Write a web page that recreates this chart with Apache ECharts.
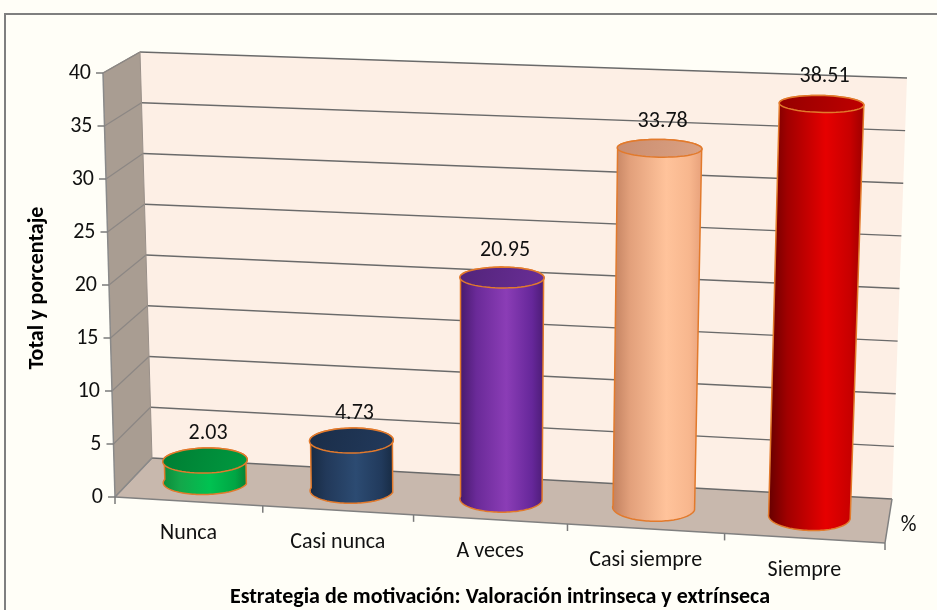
<!DOCTYPE html>
<html>
<head>
<meta charset="utf-8">
<script src="https://cdn.jsdelivr.net/npm/echarts@6/dist/echarts.min.js"></script>
<style>
  html, body { margin: 0; padding: 0; background: #fffef7; }
  #chart { width: 937px; height: 610px; }
</style>
</head>
<body>
<div id="chart"></div>
<script>
// ---- data ----
const categories = ['Nunca', 'Casi nunca', 'A veces', 'Casi siempre', 'Siempre'];
const values = [2.03, 4.73, 20.95, 33.78, 38.51];
const yTicks = [0, 5, 10, 15, 20, 25, 30, 35, 40];
const yTitle = 'Total y porcentaje';
const xTitle = 'Estrategia de motivación: Valoración intrinseca y extrínseca';
const depthLabel = '%';

// ---- styling ----
const FONT_FAMILY = 'Carlito, Lato, "Open Sans", sans-serif';
const LABEL_SIZE = 22;
const TITLE_SIZE = 22;
const bodyStops = [
  [['#0c8a39', 0], ['#14a64a', 0.2], ['#00c251', 0.55], ['#00a644', 0.85], ['#077b33', 1]],
  [['#172a42', 0], ['#22395a', 0.2], ['#2c4b72', 0.55], ['#213a5c', 0.85], ['#172a42', 1]],
  [['#45196a', 0], ['#6a2a98', 0.2], ['#8b3db6', 0.55], ['#66279a', 0.85], ['#4a1b72', 1]],
  [['#c07f5e', 0], ['#e2a07b', 0.2], ['#ffc39b', 0.6], ['#f8b78e', 0.85], ['#e7a07a', 1]],
  [['#640000', 0], ['#a00000', 0.2], ['#e60000', 0.6], ['#c80000', 0.85], ['#9a0000', 1]]
];
const topFills = [
  ['#007d33', '#009a40'],
  ['#1a2d48', '#223a5c'],
  ['#522479', '#6a2e97'],
  ['#c98d70', '#dca283'],
  ['#940000', '#c00000']
];
const OUTLINE = '#e27a2c';

// Box corners, as offsets from the grid rectangle (back wall top-left).
// F = front plane, B = back plane; T/B = top/bottom; L/R = left/right.
const BOX = {
  BTL: [0, 0],     BTR: [767, 26],  BBL: [12, 406],  BBR: [752, 447],
  FTL: [-37, 21],  FTR: [761, 52],  FBL: [-25, 445], FBR: [745, 491]
};
const PERSPECTIVE_K = 0.95;   // horizontal foreshortening
const CYL_RU = 0.054;         // cylinder radius across
const CYL_RD = 0.32;          // cylinder radius in depth
const CYL_D0 = 0.5;           // cylinder centre depth

function warp(u) { return PERSPECTIVE_K * u / (1 + (PERSPECTIVE_K - 1) * u); }
function lerp(a, b, t) { return [a[0] + (b[0] - a[0]) * t, a[1] + (b[1] - a[1]) * t]; }

function makeProjection(cs) {
  const C = {};
  Object.keys(BOX).forEach(k => { C[k] = [cs.x + BOX[k][0], cs.y + BOX[k][1]]; });
  // u: horizontal fraction (already foreshortened), h: height fraction, d: depth (0 front, 1 back)
  return function (u, h, d) {
    const f = lerp(lerp(C.FBL, C.FBR, u), lerp(C.FTL, C.FTR, u), h);
    const b = lerp(lerp(C.BBL, C.BBR, u), lerp(C.BTL, C.BTR, u), h);
    return lerp(f, b, d);
  };
}

function heightFrac(api, cs, v) {
  return (cs.y + cs.height - api.coord([0, v])[1]) / cs.height;
}

function font(size, bold) {
  return (bold ? 'bold ' : '') + size + 'px ' + FONT_FAMILY;
}

function textEl(x, y, text, size, opts) {
  opts = opts || {};
  return {
    type: 'text',
    x: x, y: y,
    rotation: opts.rotation || 0,
    style: {
      text: text,
      fill: opts.fill || '#000',
      font: font(size, opts.bold),
      align: opts.align || 'center',
      verticalAlign: opts.verticalAlign || 'middle',
      textAlign: opts.align || 'center',
      textVerticalAlign: opts.verticalAlign || 'middle'
    }
  };
}

// Walls, floor, gridlines, ticks and axis labels
function renderFrame(params, api) {
  if (params.dataIndex !== 0) return;
  const cs = params.coordSys;
  const P = makeProjection(cs);
  const children = [];
  const poly = (pts, fill, z2) => ({ type: 'polygon', shape: { points: pts }, style: { fill: fill, stroke: null }, z2: z2 || 0 });
  const line = (pts, color, w, z2) => ({ type: 'polyline', shape: { points: pts }, style: { stroke: color, lineWidth: w, fill: null }, z2: z2 || 1 });

  // back wall
  children.push(poly([P(0, 1, 1), P(1, 1, 1), P(1, 0, 1), P(0, 0, 1)], '#fdefe5'));
  // left wall
  children.push(poly([P(0, 1, 0), P(0, 1, 1), P(0, 0, 1), P(0, 0, 0)], '#a99d92'));
  // floor
  children.push(poly([P(0, 0, 0), P(0, 0, 1), P(1, 0, 1), P(1, 0, 0)], '#c8b8ad'));

  // gridlines across left wall and back wall
  yTicks.forEach(v => {
    const h = heightFrac(api, cs, v);
    children.push(line([P(0, h, 0), P(0, h, 1)], '#8c8784', 1.2, 2));
    children.push(line([P(0, h, 1), P(1, h, 1)], '#6a6a6a', 1.5, 2));
  });

  // box edges
  children.push(line([P(0, 1, 0), P(0, 1, 1)], '#8c8784', 1.2, 3));
  children.push(line([P(0, 1, 1), P(0, 0, 1)], '#9a9089', 1.0, 3));
  children.push(line([P(0, 0, 0), P(0, 1, 0)], '#8a8a8a', 1.5, 3));
  children.push(line([P(0, 0, 0), P(0, 0, 1)], '#8a8a8a', 1.2, 3));
  children.push(line([P(0, 0, 0), P(1, 0, 0)], '#808080', 1.5, 3));
  children.push(line([P(1, 0, 0), P(1, 0, 1)], '#808080', 1.5, 3));

  // value axis ticks and labels
  yTicks.forEach(v => {
    const h = heightFrac(api, cs, v);
    const p = P(0, h, 0);
    children.push(line([[p[0] - 7, p[1]], [p[0], p[1]]], '#7a7a7a', 1.5, 3));
    children.push(textEl(p[0] - 12, p[1], String(v), LABEL_SIZE, { align: 'right', fill: '#111' }));
  });

  // category ticks on the front floor edge
  for (let k = 0; k <= categories.length; k++) {
    const p = P(warp(k / categories.length), 0, 0);
    children.push(line([[p[0], p[1]], [p[0], p[1] + 7]], '#7a7a7a', 1.5, 3));
  }

  // category labels
  categories.forEach((c, i) => {
    const u = warp((api.coord([i, 0])[0] - cs.x) / cs.width);
    const p = P(u, 0, 0);
    children.push(textEl(p[0], p[1] + 32, c, LABEL_SIZE, { fill: '#111' }));
  });

  // depth axis label
  const pd = P(1, 0, 0.5);
  children.push(textEl(pd[0] + 20, pd[1] + 4, depthLabel, LABEL_SIZE, { fill: '#111' }));

  // axis titles
  const mid = P(0.5, 0, 0);
  children.push(textEl(mid[0], 597, xTitle, TITLE_SIZE, { bold: true, fill: '#000' }));
  const left = P(0, 0.5, 0);
  children.push(textEl(37, left[1] + 3, yTitle, TITLE_SIZE, { bold: true, fill: '#000', rotation: Math.PI / 2 }));

  return { type: 'group', children: children };
}

// Cylinders with their value labels
function renderCylinder(params, api) {
  const cs = params.coordSys;
  const P = makeProjection(cs);
  const i = api.value(0);
  const v = api.value(1);
  const u0 = warp((api.coord([i, v])[0] - cs.x) / cs.width);
  const h = heightFrac(api, cs, v);
  const N = 60;

  const ring = (hh, t0, t1) => {
    const pts = [];
    for (let s = 0; s <= N; s++) {
      const t = t0 + (t1 - t0) * s / N;
      pts.push(P(u0 + CYL_RU * Math.cos(t), hh, CYL_D0 + CYL_RD * Math.sin(t)));
    }
    return pts;
  };

  // side: front half of the base, then back half of the top
  const bottomFront = ring(0, Math.PI, 2 * Math.PI);
  const topBack = ring(h, 0, Math.PI);
  const body = bottomFront.concat(topBack);
  const topFull = ring(h, 0, 2 * Math.PI);

  const stops = bodyStops[i].map(s => ({ offset: s[1], color: s[0] }));
  const tf = topFills[i];
  const c = P(u0, h, CYL_D0);

  return {
    type: 'group',
    children: [
      {
        type: 'polygon', shape: { points: body },
        style: {
          fill: { type: 'linear', x: 0, y: 0, x2: 1, y2: 0, colorStops: stops },
          stroke: OUTLINE, lineWidth: 1.5
        }
      },
      {
        type: 'polygon', shape: { points: topFull },
        style: {
          fill: { type: 'linear', x: 0, y: 0, x2: 1, y2: 1, colorStops: [{ offset: 0, color: tf[0] }, { offset: 1, color: tf[1] }] },
          stroke: OUTLINE, lineWidth: 1.5
        }
      },
      textEl(c[0] + 3, c[1] - 27, v.toFixed(2), LABEL_SIZE, { fill: '#111' })
    ]
  };
}

const chart = echarts.init(document.getElementById('chart'), null, { renderer: 'canvas' });
chart.setOption({
  animation: false,
  backgroundColor: '#fffef7',
  graphic: [{
    type: 'rect', z: -10, silent: true,
    shape: { x: 5, y: 14, width: 940, height: 610 },
    style: { fill: '#fffef7', stroke: '#7f7f7f', lineWidth: 2 }
  }],
  grid: { left: 140, top: 52, width: 767, height: 406 },
  xAxis: { type: 'category', data: categories, show: false },
  yAxis: { type: 'value', min: 0, max: 40, interval: 5, show: false },
  series: [
    {
      type: 'custom', z: 1, silent: true, clip: false,
      renderItem: renderFrame,
      data: [[0, 0]]
    },
    {
      type: 'custom', z: 2, silent: true, clip: false,
      renderItem: renderCylinder,
      encode: { x: 0, y: 1 },
      data: values.map((v, i) => [i, v])
    }
  ]
});
</script>
</body>
</html>
